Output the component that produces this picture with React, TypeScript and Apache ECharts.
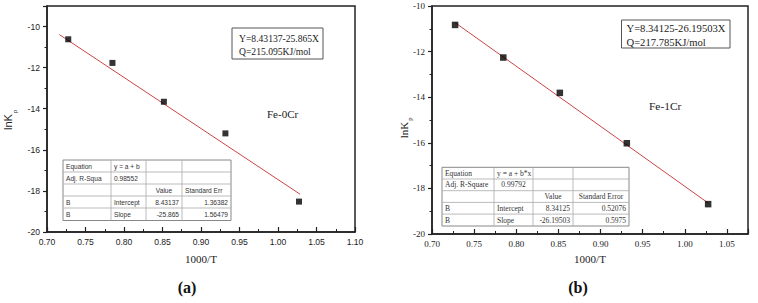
import React, { useEffect, useRef } from "react";
import * as echarts from "echarts";

// Fe-0Cr (a)
const xA = [0.7276, 0.785, 0.8518, 0.9317, 1.0273];
const yA = [-10.62, -11.77, -13.66, -15.2, -18.52];
const fitXA = [0.716, 1.0286];
const fitYA = [-10.39, -18.16];
// Fe-1Cr (b)
const xB = [0.7274, 0.7846, 0.8517, 0.9312, 1.0277];
const yB = [-10.83, -12.26, -13.81, -16.02, -18.69];
const fitXB = [0.7274, 1.0277];
const fitYB = [-10.73, -18.64];

const eqA = ["Y=8.43137-25.865X", "Q=215.095KJ/mol"];
const eqB = ["Y=8.34125-26.19503X", "Q=217.785KJ/mol"];
const labelA = "Fe-0Cr";
const labelB = "Fe-1Cr";

const tableA = [
  ["Equation", "y = a + b", "", ""],
  ["Adj. R-Squa", "0.98552", "", ""],
  ["", "", "Value", "Standard Err"],
  ["B", "Intercept", "8.43137", "1.36382"],
  ["B", "Slope", "-25.865", "1.56479"],
];
const tableB = [
  ["Equation", "y = a + b*x", "", ""],
  ["Adj. R-Square", "0.99792", "", ""],
  ["", "", "Value", "Standard Error"],
  ["B", "Intercept", "8.34125", "0.52076"],
  ["B", "Slope", "-26.19503", "0.5975"],
];

const SANS = "Liberation Sans, Arial, sans-serif";
const SERIF = "Liberation Serif, Times New Roman, serif";
const INK = "#222";

function pair(xs: number[], ys: number[]) {
  return xs.map((x, i) => [x, ys[i]]);
}

function tableEls(
  cells: string[][],
  aligns: string[][],
  xs: number[],
  ys: number[],
  font: string,
  size: number
) {
  const els: any[] = [];
  els.push({
    type: "rect",
    shape: { x: xs[0], y: ys[0], width: xs[xs.length - 1] - xs[0], height: ys[ys.length - 1] - ys[0] },
    style: { fill: "#fff", stroke: "#888", lineWidth: 1 },
    z: 10,
  });
  ys.slice(1, -1).forEach((y) =>
    els.push({
      type: "line",
      shape: { x1: xs[0], y1: y, x2: xs[xs.length - 1], y2: y },
      style: { stroke: "#aaa", lineWidth: 0.8 },
      z: 11,
    })
  );
  xs.slice(1, -1).forEach((x) =>
    els.push({
      type: "line",
      shape: { x1: x, y1: ys[0], x2: x, y2: ys[ys.length - 1] },
      style: { stroke: "#aaa", lineWidth: 0.8 },
      z: 11,
    })
  );
  cells.forEach((row, r) =>
    row.forEach((t, c) => {
      if (!t) return;
      const a = aligns[r][c];
      const x = a === "l" ? xs[c] + 3 : a === "r" ? xs[c + 1] - 3 : (xs[c] + xs[c + 1]) / 2;
      els.push({
        type: "text",
        x,
        y: (ys[r] + ys[r + 1]) / 2,
        z: 12,
        style: {
          text: t,
          fill: "#333",
          font: `${size}px ${font}`,
          align: a === "l" ? "left" : a === "r" ? "right" : "center",
          verticalAlign: "middle",
        },
      });
    })
  );
  return els;
}

function eqBox(lines: string[], x1: number, y1: number, x2: number, y2: number, tx: number, ly: number[], size: number) {
  return [
    {
      type: "rect",
      shape: { x: x1, y: y1, width: x2 - x1, height: y2 - y1 },
      style: { fill: "#fff", stroke: "#555", lineWidth: 1 },
      z: 10,
    },
    ...lines.map((t, i) => ({
      type: "text",
      x: tx,
      y: ly[i],
      z: 11,
      style: { text: t, fill: INK, font: `${size}px ${SERIF}`, align: "left", verticalAlign: "middle" },
    })),
  ];
}

function xAxisOpt(gridIndex: number, max: number, font: string, size: number, showMax: boolean, gap: number) {
  return {
    type: "value",
    gridIndex,
    min: 0.7,
    max,
    interval: 0.05,
    axisLine: { show: true, onZero: false, lineStyle: { color: INK, width: 1.5 } },
    axisTick: { show: true, inside: true, length: 5, lineStyle: { color: INK, width: 1.2 } },
    minorTick: { show: true, splitNumber: 2, length: 3, lineStyle: { color: INK, width: 1 } },
    splitLine: { show: false },
    minorSplitLine: { show: false },
    axisLabel: {
      margin: 5,
      fontFamily: font,
      fontSize: size,
      color: INK,
      showMaxLabel: showMax,
      formatter: (v: number) => v.toFixed(2),
    },
    name: "1000/T",
    nameLocation: "middle",
    nameGap: gap,
    nameTextStyle: { fontFamily: SERIF, fontSize: 11, color: INK },
  };
}

function yAxisOpt(gridIndex: number, max: number, font: string, size: number, showMax: boolean) {
  return {
    type: "value",
    gridIndex,
    min: -20,
    max,
    interval: 2,
    axisLine: { show: true, onZero: false, lineStyle: { color: INK, width: 1.5 } },
    axisTick: { show: true, inside: false, length: 4, lineStyle: { color: INK, width: 1.2 } },
    minorTick: { show: true, splitNumber: 2, length: 2.5, lineStyle: { color: INK, width: 1 } },
    splitLine: { show: false },
    minorSplitLine: { show: false },
    axisLabel: {
      margin: 7,
      fontFamily: font,
      fontSize: size,
      color: INK,
      showMaxLabel: showMax,
      formatter: (v: number) => String(Math.round(v)),
    },
  };
}

export default function App() {
  const ref = useRef<HTMLDivElement>(null);
  useEffect(() => {
    if (!ref.current) return;
    const chart = echarts.init(ref.current, undefined, { renderer: "svg" });
    const aligA = [
      ["l", "l", "l", "l"],
      ["l", "l", "l", "l"],
      ["l", "l", "c", "l"],
      ["l", "l", "r", "r"],
      ["l", "l", "r", "r"],
    ];
    const aligB = [
      ["l", "l", "l", "l"],
      ["l", "c", "l", "l"],
      ["l", "l", "c", "c"],
      ["l", "l", "r", "r"],
      ["l", "l", "r", "r"],
    ];
    const graphic: any[] = [
      ...tableEls(tableA, aligA, [63, 111, 146, 182, 231], [160, 172, 184, 196, 208, 220.5], SANS, 6.6),
      ...tableEls(tableB, aligB, [442, 494, 533, 573, 629], [167.3, 179, 190.7, 202.4, 214.1, 226], SERIF, 7.5),
      ...eqBox(eqA, 232, 28, 323, 59, 239, [38.5, 51.5], 9.6),
      ...eqBox(eqB, 621.5, 20, 730, 48, 626.5, [28.5, 42], 10.6),
      { type: "text", x: 267, y: 114, style: { text: labelA, fill: INK, font: `11px ${SERIF}`, verticalAlign: "middle" } },
      { type: "text", x: 649, y: 106, style: { text: labelB, fill: INK, font: `11.4px ${SERIF}`, verticalAlign: "middle" } },
      { type: "text", x: 8, y: 122, rotation: Math.PI / 2, style: { text: "lnK", fill: INK, font: `11px ${SANS}`, align: "center", verticalAlign: "middle" } },
      { type: "text", x: 14.5, y: 111.5, rotation: Math.PI / 2, style: { text: "p", fill: INK, font: `6px ${SANS}`, align: "center", verticalAlign: "middle" } },
      { type: "text", x: 404, y: 130, rotation: Math.PI / 2, style: { text: "lnK", fill: INK, font: `11px ${SERIF}`, align: "center", verticalAlign: "middle" } },
      { type: "text", x: 409.5, y: 119, rotation: Math.PI / 2, style: { text: "p", fill: INK, font: `6.5px ${SERIF}`, align: "center", verticalAlign: "middle" } },
      { type: "text", x: 187, y: 287, style: { text: "(a)", fill: "#111", font: `bold 16px ${SERIF}`, align: "center", verticalAlign: "middle" } },
      { type: "text", x: 578, y: 287, style: { text: "(b)", fill: "#111", font: `bold 16px ${SERIF}`, align: "center", verticalAlign: "middle" } },
    ];
    chart.setOption({
      animation: false,
      backgroundColor: "#fff",
      grid: [
        { left: 47, top: 6, width: 308, height: 226, show: true, borderColor: INK, borderWidth: 1.5, containLabel: false },
        { left: 432, top: 6, width: 316, height: 228, show: true, borderColor: INK, borderWidth: 1.5, containLabel: false },
      ],
      xAxis: [xAxisOpt(0, 1.1, SANS, 8.6, true, 21), xAxisOpt(1, 1.075, SERIF, 9, false, 19.5)],
      yAxis: [yAxisOpt(0, -9, SANS, 8.6, false), yAxisOpt(1, -10, SERIF, 9, true)],
      series: [
        {
          type: "line",
          xAxisIndex: 0,
          yAxisIndex: 0,
          data: pair(fitXA, fitYA),
          symbol: "none",
          lineStyle: { color: "#cc4444", width: 1 },
          z: 2,
        },
        {
          type: "scatter",
          xAxisIndex: 0,
          yAxisIndex: 0,
          data: pair(xA, yA),
          symbol: "rect",
          symbolSize: 6,
          itemStyle: { color: "#000" },
          z: 3,
        },
        {
          type: "line",
          xAxisIndex: 1,
          yAxisIndex: 1,
          data: pair(fitXB, fitYB),
          symbol: "none",
          lineStyle: { color: "#cc4444", width: 1 },
          z: 2,
        },
        {
          type: "scatter",
          xAxisIndex: 1,
          yAxisIndex: 1,
          data: pair(xB, yB),
          symbol: "rect",
          symbolSize: 6.5,
          itemStyle: { color: "#000" },
          z: 3,
        },
      ],
      graphic,
    });
    return () => chart.dispose();
  }, []);
  return (
    <div
      ref={ref}
      style={{ position: "fixed", left: 0, top: 0, width: 758, height: 303, background: "#fff" }}
    />
  );
}
